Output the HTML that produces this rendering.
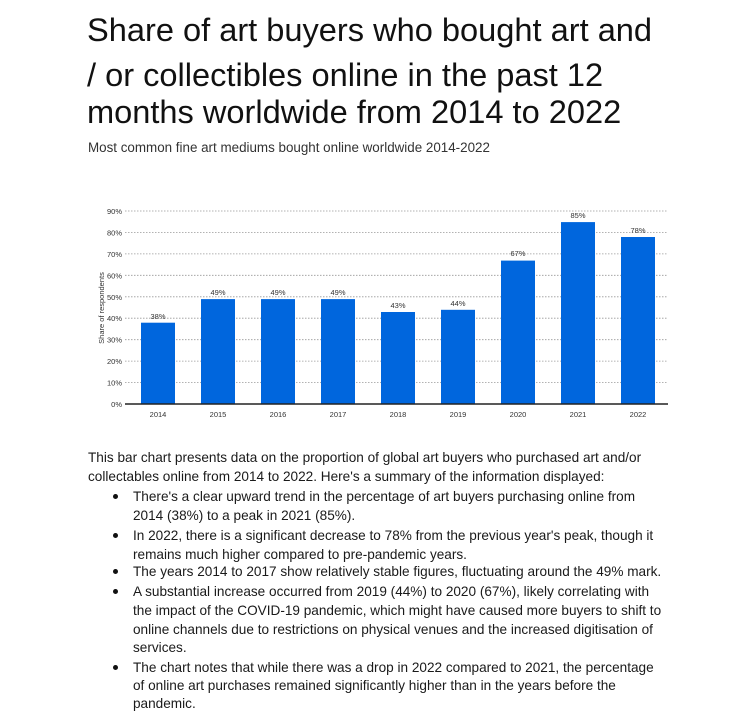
<!DOCTYPE html>
<html><head><meta charset="utf-8"><style>
body{margin:0;width:750px;height:712px;background:#fff;position:relative;overflow:hidden;font-family:"Liberation Sans",sans-serif;color:#111}
.t{position:absolute;left:87px;font-size:32.6px;line-height:40px;white-space:nowrap;color:#111}
.s{position:absolute;left:88px;top:140px;font-size:13.4px;color:#333;white-space:nowrap}
.l{position:absolute;font-size:13.6px;line-height:18px;white-space:nowrap;color:#1a1a1a}
.b{position:absolute;left:113px;width:5px;height:5px;border-radius:50%;background:#111}
</style></head><body>
<div class="t" style="top:10px">Share of art buyers who bought art and</div>
<div class="t" style="top:55px">/ or collectibles online in the past 12</div>
<div class="t" style="top:92px">months worldwide from 2014 to 2022</div>
<div class="s">Most common fine art mediums bought online worldwide 2014-2022</div>
<svg style="position:absolute;left:0;top:0" width="750" height="440">
<g stroke="#999" stroke-dasharray="1.5,1.5" stroke-width="0.8">
<line x1="125" x2="668" y1="211" y2="211"/><line x1="125" x2="668" y1="232.4" y2="232.4"/><line x1="125" x2="668" y1="253.9" y2="253.9"/><line x1="125" x2="668" y1="275.3" y2="275.3"/><line x1="125" x2="668" y1="296.8" y2="296.8"/><line x1="125" x2="668" y1="318.2" y2="318.2"/><line x1="125" x2="668" y1="339.7" y2="339.7"/><line x1="125" x2="668" y1="361.1" y2="361.1"/><line x1="125" x2="668" y1="382.6" y2="382.6"/>
</g>
<g fill="#0066dd">
<rect x="141" y="322.7" width="34" height="81.3"/><rect x="201" y="299.1" width="34" height="104.9"/><rect x="261" y="299.1" width="34" height="104.9"/><rect x="321" y="299.1" width="34" height="104.9"/><rect x="381" y="312" width="34" height="92"/><rect x="441" y="309.8" width="34" height="94.2"/><rect x="501" y="260.6" width="34" height="143.4"/><rect x="561" y="222.1" width="34" height="181.9"/><rect x="621" y="237" width="34" height="167"/>
</g>
<line x1="125" x2="668" y1="404" y2="404" stroke="#222" stroke-width="1.5"/>
<g font-size="7.5" fill="#333" text-anchor="end" font-family="Liberation Sans,sans-serif">
<text x="122" y="214">90%</text><text x="122" y="235.4">80%</text><text x="122" y="256.9">70%</text><text x="122" y="278.3">60%</text><text x="122" y="299.8">50%</text><text x="122" y="321.2">40%</text><text x="122" y="342.7">30%</text><text x="122" y="364.1">20%</text><text x="122" y="385.6">10%</text><text x="122" y="407">0%</text>
</g>
<text transform="translate(104,308) rotate(-90)" font-size="7.5" fill="#333" text-anchor="middle">Share of respondents</text>
<g font-size="7.5" fill="#333" text-anchor="middle">
<text x="158" y="417">2014</text><text x="218" y="417">2015</text><text x="278" y="417">2016</text><text x="338" y="417">2017</text><text x="398" y="417">2018</text><text x="458" y="417">2019</text><text x="518" y="417">2020</text><text x="578" y="417">2021</text><text x="638" y="417">2022</text>
<text x="158" y="319">38%</text><text x="218" y="295">49%</text><text x="278" y="295">49%</text><text x="338" y="295">49%</text><text x="398" y="308">43%</text><text x="458" y="306">44%</text><text x="518" y="256">67%</text><text x="578" y="218">85%</text><text x="638" y="233">78%</text>
</g>
</svg>
<div class="l" style="left:88px;top:449px">This bar chart presents data on the proportion of global art buyers who purchased art and/or</div>
<div class="l" style="left:88px;top:468px">collectables online from 2014 to 2022. Here's a summary of the information displayed:</div>
<div class="b" style="top:494px"></div>
<div class="l" style="left:133px;top:488px">There's a clear upward trend in the percentage of art buyers purchasing online from</div>
<div class="l" style="left:133px;top:507px">2014 (38%) to a peak in 2021 (85%).</div>
<div class="b" style="top:533px"></div>
<div class="l" style="left:133px;top:527px">In 2022, there is a significant decrease to 78% from the previous year's peak, though it</div>
<div class="l" style="left:133px;top:546px">remains much higher compared to pre-pandemic years.</div>
<div class="b" style="top:569px"></div>
<div class="l" style="left:133px;top:563px">The years 2014 to 2017 show relatively stable figures, fluctuating around the 49% mark.</div>
<div class="b" style="top:589px"></div>
<div class="l" style="left:133px;top:583px">A substantial increase occurred from 2019 (44%) to 2020 (67%), likely correlating with</div>
<div class="l" style="left:133px;top:602px">the impact of the COVID-19 pandemic, which might have caused more buyers to shift to</div>
<div class="l" style="left:133px;top:621px">online channels due to restrictions on physical venues and the increased digitisation of</div>
<div class="l" style="left:133px;top:639px">services.</div>
<div class="b" style="top:665px"></div>
<div class="l" style="left:133px;top:659px">The chart notes that while there was a drop in 2022 compared to 2021, the percentage</div>
<div class="l" style="left:133px;top:677px">of online art purchases remained significantly higher than in the years before the</div>
<div class="l" style="left:133px;top:695px">pandemic.</div>
</body></html>
